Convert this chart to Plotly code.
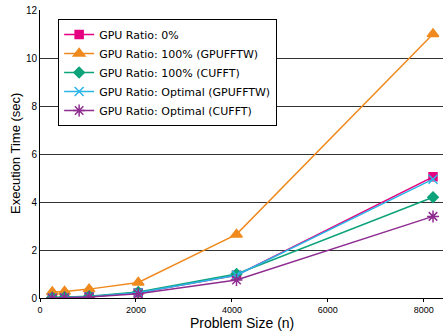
import plotly.graph_objects as go

sizes = [256, 512, 1024, 2048, 4096, 8192]
names = ["GPU Ratio: 0%", "GPU Ratio: 100% (GPUFFTW)", "GPU Ratio: 100% (CUFFT)",
         "GPU Ratio: Optimal (GPUFFTW)", "GPU Ratio: Optimal (CUFFT)"]
ratio0 = [0.0, 0.01, 0.05, 0.22, 0.95, 5.05]
gpufftw100 = [0.25, 0.27, 0.37, 0.65, 2.65, 11.0]
cufft100 = [0.02, 0.03, 0.07, 0.25, 1.0, 4.2]
opt_gpufftw = [0.0, 0.01, 0.05, 0.22, 0.95, 4.95]
opt_cufft = [0.0, 0.01, 0.04, 0.18, 0.75, 3.4]

series = [ratio0, gpufftw100, cufft100, opt_gpufftw, opt_cufft]
colors = ["#E4007F", "#F08A1E", "#0DA37A", "#2BB5E8", "#8E2C90"]
symbols = ["square", "triangle-up", "diamond", "x-thin", "asterisk"]
msizes = [8, 10, 8, 9, 10]

fig = go.Figure()
for n, ys, c, s, ms in zip(names, series, colors, symbols, msizes):
    fig.add_trace(go.Scatter(
        x=sizes, y=ys, name=n, mode="lines+markers",
        line=dict(color=c, width=1.5),
        marker=dict(symbol=s, size=ms, color=c, line=dict(color=c, width=1.5)),
    ))

font = "Liberation Sans, Arial, sans-serif"
fig.update_layout(
    width=443, height=331,
    margin=dict(l=40, r=0, t=10, b=33, autoexpand=False),
    paper_bgcolor="white", plot_bgcolor="white",
    font=dict(family=font, size=10, color="black"),
    showlegend=True,
    legend=dict(x=0.045, y=0.969, xanchor="left", yanchor="top",
                bordercolor="black", borderwidth=1, bgcolor="white",
                font=dict(size=11, family="DejaVu Sans"), tracegroupgap=0,
                itemwidth=30),
    xaxis=dict(range=[0, 8400], tickvals=[0, 2000, 4000, 6000, 8000],
               showgrid=False, showline=True, linecolor="black", linewidth=1,
               ticks="outside", ticklen=3, tickcolor="black", zeroline=False,
               tickfont=dict(size=9), automargin=False),
    yaxis=dict(range=[0, 12], tickvals=[0, 2, 4, 6, 8, 10, 12],
               showgrid=True, gridcolor="#333333", gridwidth=1,
               showline=True, linecolor="black", linewidth=1,
               ticks="", zeroline=False, tickfont=dict(size=10), automargin=False),
    annotations=[
        dict(text="Problem Size (n)", x=0.5, y=-25 / 288, xref="paper", yref="paper",
             xanchor="center", yanchor="middle", showarrow=False, font=dict(size=14)),
        dict(text="Execution Time (sec)", x=-25 / 403, y=0.5, xref="paper", yref="paper",
             xanchor="center", yanchor="middle", showarrow=False, textangle=-90,
             font=dict(size=13)),
    ],
)
fig.write_html("out.html", config={"displayModeBar": False},
               post_script="document.body.style.margin='0';document.body.style.padding='0';")
